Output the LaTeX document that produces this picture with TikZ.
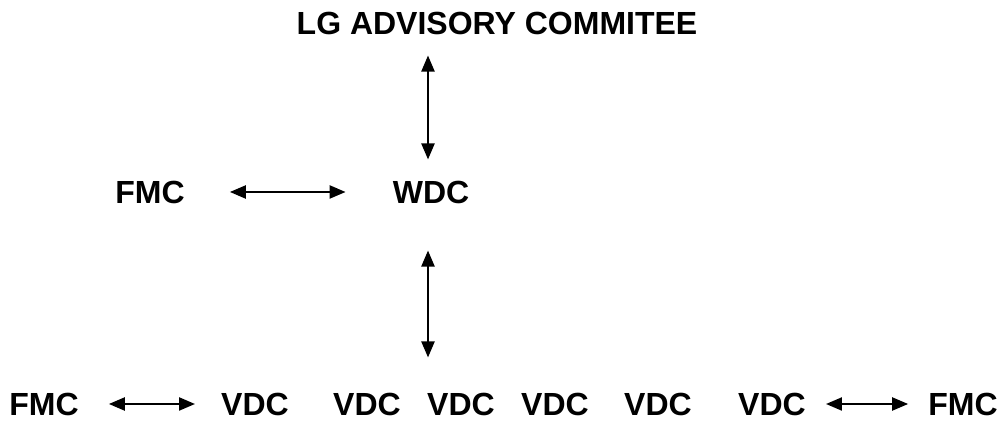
\documentclass[tikz,border=0pt]{standalone}
\usepackage{fontspec}
\setmainfont{Liberation Sans}
\usetikzlibrary{arrows.meta}
\begin{document}
\begin{tikzpicture}[x=1pt,y=-1pt,
  lbl/.style={font=\fontsize{32}{32}\selectfont\bfseries, inner sep=0pt, anchor=base},
  link/.style={line width=2.2pt, {Triangle[length=16pt,width=13pt]}-{Triangle[length=16pt,width=13pt]}}]
  \useasboundingbox (0,0) rectangle (998,421);
  % top level
  \node[lbl] (lg) at (497,34) {LG ADVISORY COMMITEE};
  % middle level
  \node[lbl] (fmcm) at (150,203) {FMC};
  \node[lbl] (wdc) at (431,203) {WDC};
  % village level
  \node[lbl] (fmcl) at (44,415) {FMC};
  \node[lbl] (vdc1) at (255,415) {VDC};
  \node[lbl] (vdc2) at (367,415) {VDC};
  \node[lbl] (vdc3) at (461,415) {VDC};
  \node[lbl] (vdc4) at (555,415) {VDC};
  \node[lbl] (vdc5) at (658,415) {VDC};
  \node[lbl] (vdc6) at (772,415) {VDC};
  \node[lbl] (fmcr) at (963,415) {FMC};
  % vertical axis of the hierarchy links
  \coordinate (axis) at (428,0);
  \draw[link, shorten <=21pt, shorten >=21pt] (lg.south -| axis) -- (wdc.north -| axis);
  \draw[link, shorten <=47pt, shorten >=35pt] (wdc.south -| axis) -- (vdc3.north -| axis);
  \draw[link, shorten <=45pt, shorten >=47pt] (fmcm.east) -- (wdc.west);
  \draw[link, shorten <=30pt, shorten >=26pt] (fmcl.east) -- (vdc1.west);
  \draw[link, shorten <=20pt, shorten >=20pt] (vdc6.east) -- (fmcr.west);
\end{tikzpicture}
\end{document}
